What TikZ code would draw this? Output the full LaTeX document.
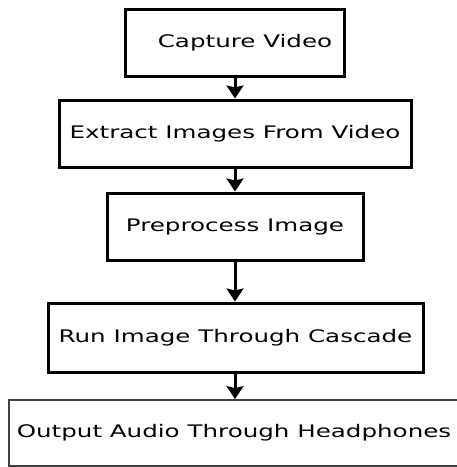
\documentclass[tikz,border=0pt]{standalone}
\usepackage{fontspec}
\setmainfont{DejaVu Sans}[FakeStretch=1.42]
\usetikzlibrary{arrows.meta}
\begin{document}
\begin{tikzpicture}[x=1pt,y=-1pt,
  stepbox/.style={draw=black,line width=3pt,rectangle,inner sep=0pt,align=center,
    font=\fontsize{17.3}{20}\selectfont},
  lastbox/.style={draw=black!75,line width=1.8pt,rectangle,inner sep=0pt,align=center,
    font=\fontsize{17.3}{20}\selectfont},
  flow/.style={line width=3pt,-{Stealth[length=13pt,width=17pt,inset=2pt]}}]
\useasboundingbox (0,0) rectangle (457,467);
\node[stepbox,minimum width=219pt,minimum height=67pt] (a) at (234.5,42.5) {\hspace*{21pt}Capture Video};
\node[stepbox,minimum width=352pt,minimum height=67pt] (b) at (235,133.5) {Extract Images From Video};
\node[stepbox,minimum width=256pt,minimum height=67pt] (c) at (235,226.5) {Preprocess Image};
\node[stepbox,minimum width=375pt,minimum height=69pt] (d) at (235.5,337.5) {Run Image Through Cascade};
\node[lastbox,minimum width=450pt,minimum height=66pt] (e) at (234,433) {Output Audio Through Headphones};
\draw[flow] (a.south -| 235,0) -- (b.north -| 235,0);
\draw[flow] (b.south -| 235,0) -- (c.north -| 235,0);
\draw[flow] (c.south -| 235,0) -- (d.north -| 235,0);
\draw[flow] (d.south -| 235,0) -- (e.north -| 235,0);
\end{tikzpicture}
\end{document}
